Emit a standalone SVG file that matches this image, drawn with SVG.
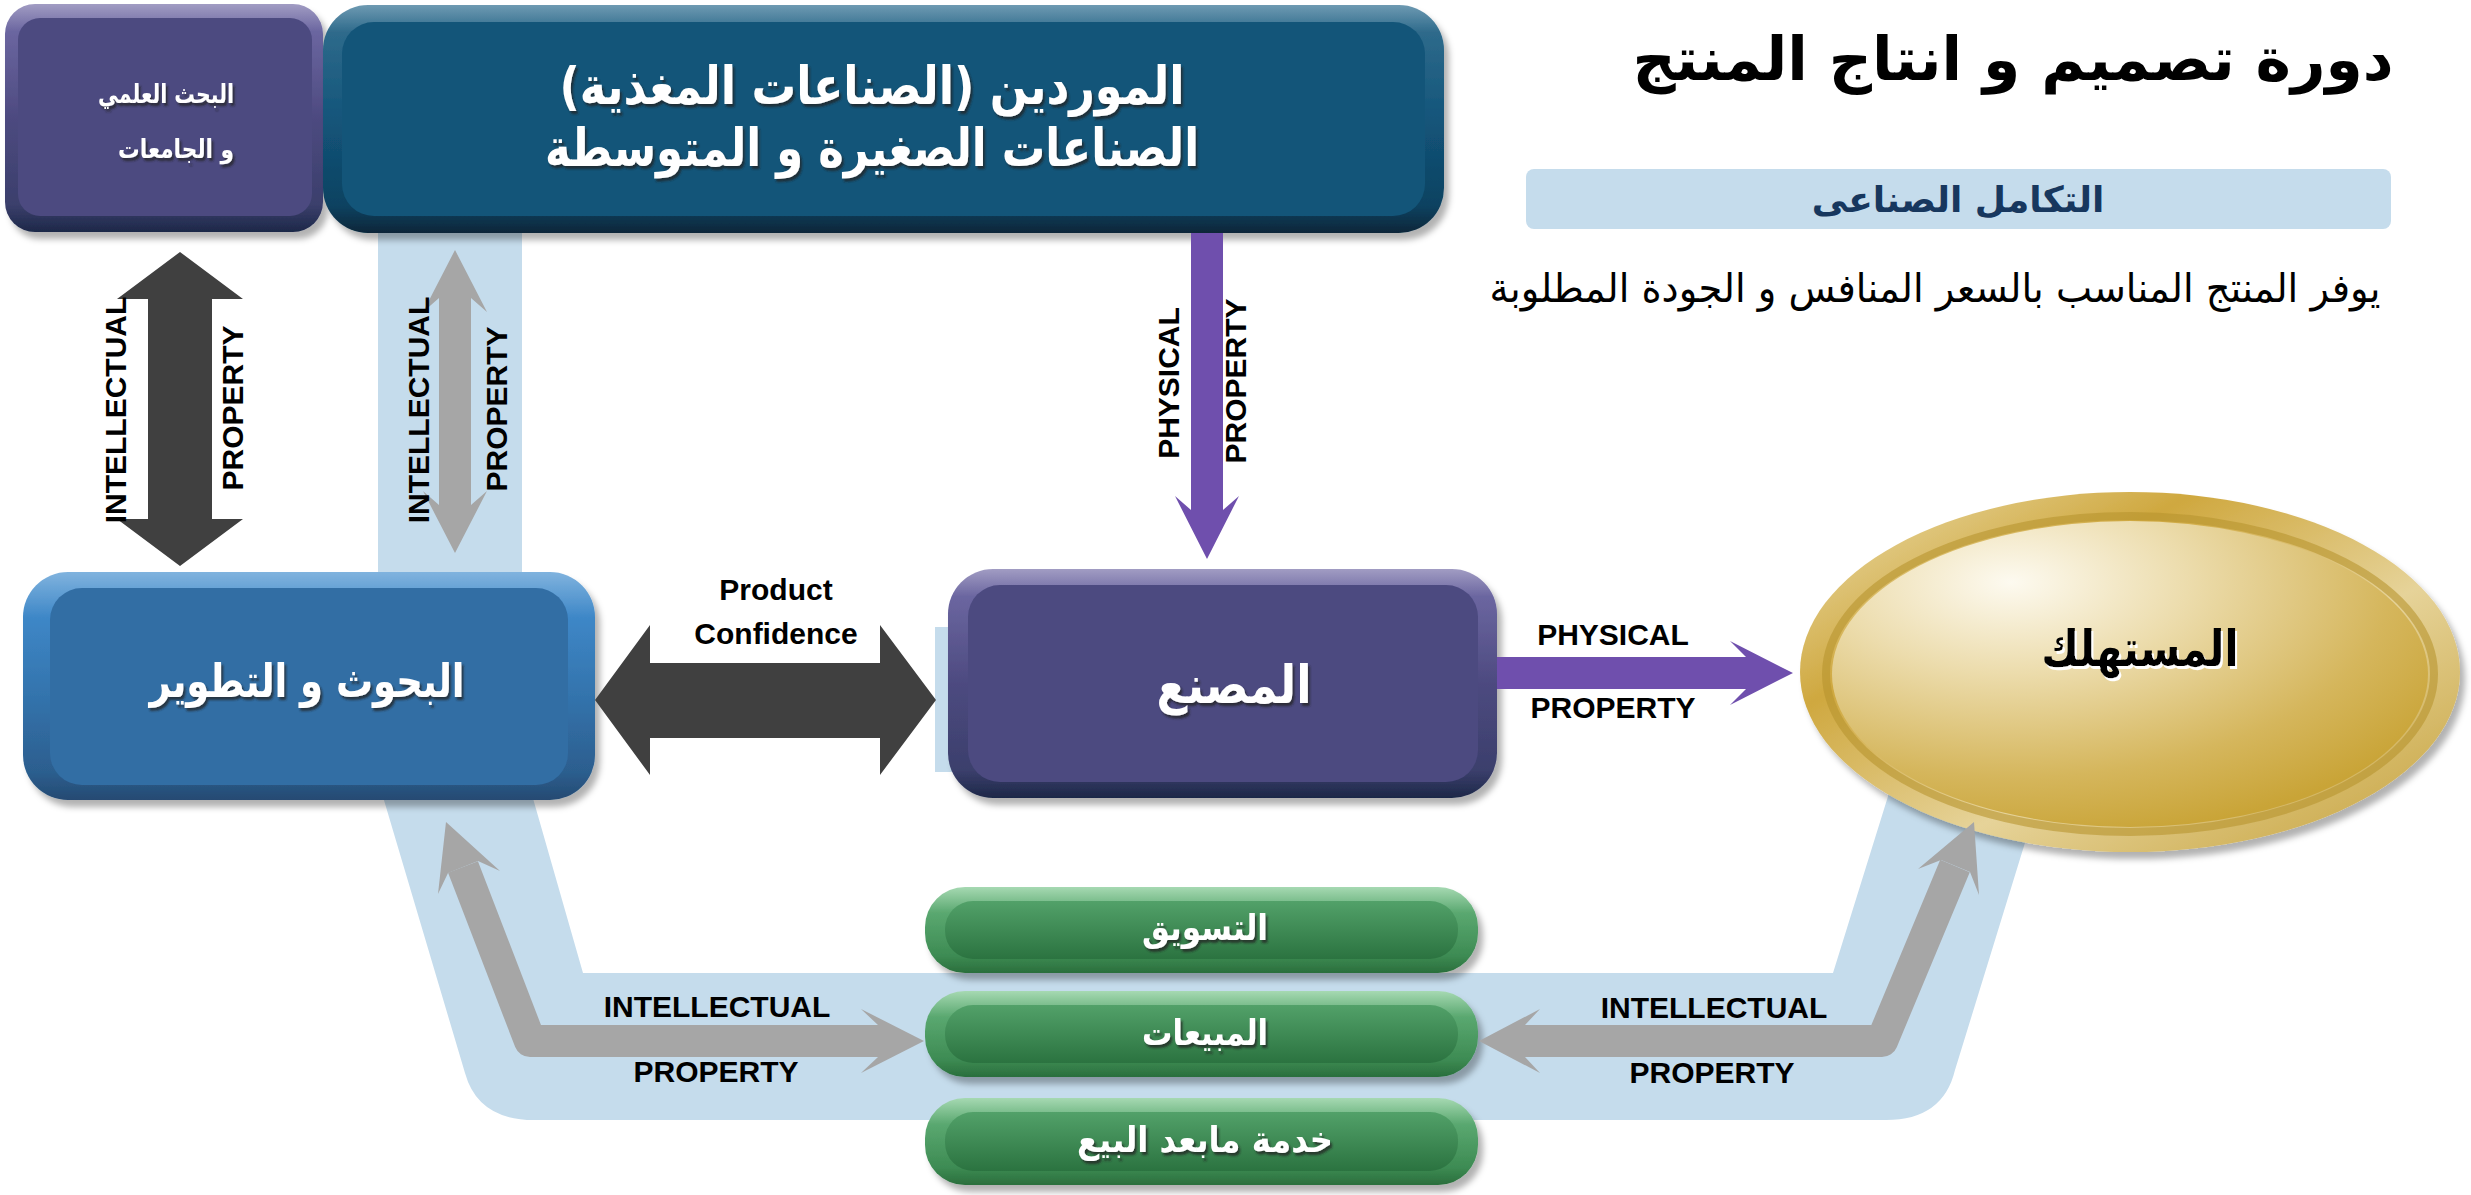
<svg xmlns="http://www.w3.org/2000/svg" width="2471" height="1195" viewBox="0 0 2471 1195">
<defs>
<style>
.ar{font-family:"DejaVu Sans",sans-serif;font-weight:bold;}
.wt{fill:#fff;filter:url(#ts);}
.lbl{font-family:"Liberation Sans",Arial,sans-serif;font-weight:bold;font-size:30px;fill:#000;}
.dark{fill:#404040;}
.gray{fill:#a6a6a6;}
.grayline{fill:none;stroke:#a6a6a6;stroke-width:32;stroke-linejoin:round;}
.purp{fill:#6f4fad;}
.band{fill:#c5dcec;}
</style>
<filter id="sh" x="-10%" y="-10%" width="125%" height="130%">
<feDropShadow dx="5" dy="7" stdDeviation="3" flood-color="#000" flood-opacity="0.3"/>
</filter>
<filter id="ts" x="-10%" y="-20%" width="125%" height="150%">
<feDropShadow dx="2" dy="3" stdDeviation="1" flood-color="#222" flood-opacity="0.75"/>
</filter>
<filter id="tsw" x="-10%" y="-20%" width="125%" height="150%">
<feDropShadow dx="2" dy="3" stdDeviation="0.5" flood-color="#fff" flood-opacity="1"/>
</filter>
<linearGradient id="gPurOut" x1="0" y1="0" x2="0" y2="1">
<stop offset="0" stop-color="#a19cc3"/><stop offset="0.12" stop-color="#6b66a0"/><stop offset="0.5" stop-color="#4d4a80"/><stop offset="0.88" stop-color="#3b3f6c"/><stop offset="1" stop-color="#1d2848"/>
</linearGradient>
<linearGradient id="gTealOut" x1="0" y1="0" x2="0" y2="1">
<stop offset="0" stop-color="#6e9ab2"/><stop offset="0.12" stop-color="#2e6a8b"/><stop offset="0.5" stop-color="#13557a"/><stop offset="0.88" stop-color="#0e4261"/><stop offset="1" stop-color="#072639"/>
</linearGradient>
<linearGradient id="gBlueOut" x1="0" y1="0" x2="0" y2="1">
<stop offset="0" stop-color="#80b3de"/><stop offset="0.2" stop-color="#3e87c7"/><stop offset="0.55" stop-color="#3373ac"/><stop offset="0.88" stop-color="#2c5e8e"/><stop offset="1" stop-color="#254a72"/>
</linearGradient>
<linearGradient id="gGreenOut" x1="0" y1="0" x2="0" y2="1">
<stop offset="0" stop-color="#a6d9b2"/><stop offset="0.3" stop-color="#5aa870"/><stop offset="0.8" stop-color="#3d8b53"/><stop offset="1" stop-color="#2a6e3c"/>
</linearGradient>
<linearGradient id="gGreenIn" x1="0" y1="0" x2="0" y2="1">
<stop offset="0" stop-color="#52a169"/><stop offset="1" stop-color="#2b7340"/>
</linearGradient>
<linearGradient id="gGoldOut" x1="0" y1="0" x2="1" y2="1">
<stop offset="0" stop-color="#ede0b2"/><stop offset="0.3" stop-color="#cfa83f"/><stop offset="0.6" stop-color="#e6d399"/><stop offset="1" stop-color="#c49f36"/>
</linearGradient>
<radialGradient id="gGoldIn" cx="0.3" cy="0.2" r="0.85">
<stop offset="0" stop-color="#fdfaf0"/><stop offset="0.35" stop-color="#ecdcac"/><stop offset="0.75" stop-color="#d5b65c"/><stop offset="1" stop-color="#c9a437"/>
</radialGradient>
</defs>
<rect width="2471" height="1195" fill="#fff"/>

<!-- background band -->
<g id="band">
<path class="band" d="M378,200 L378,780 L465,1073 Q478,1120 534,1120 L1886,1120 Q1943,1120 1955,1070 L2069,700 L1918,700 L1833,973 L583,973 L522,760 L522,200 Z"/>
<rect class="band" x="935" y="627" width="30" height="145"/>
</g>

<!-- title texts -->
<g id="title">
<text class="ar" x="2013" y="80" font-size="60" text-anchor="middle" direction="rtl" fill="#000">دورة تصميم و انتاج المنتج</text>
<rect x="1526" y="169" width="865" height="60" rx="8" fill="#c5dcec"/>
<text class="ar" x="1958" y="212" font-size="36" text-anchor="middle" direction="rtl" fill="#17375e">التكامل الصناعى</text>
<text x="1935" y="302" font-family="DejaVu Sans,sans-serif" font-size="40" text-anchor="middle" direction="rtl" fill="#000" textLength="891" lengthAdjust="spacingAndGlyphs">يوفر المنتج المناسب بالسعر المنافس و الجودة المطلوبة</text>
</g>

<!-- nodes -->
<g id="node-research">
<rect x="5" y="4" width="318" height="228" rx="30" fill="url(#gPurOut)" filter="url(#sh)"/>
<rect x="18" y="18" width="294" height="198" rx="22" fill="#4c4a80"/>
<text class="ar wt" x="234" y="103" font-size="26" direction="rtl" text-anchor="start" textLength="136" lengthAdjust="spacingAndGlyphs">البحث العلمي</text>
<text class="ar wt" x="234" y="158" font-size="26" direction="rtl" text-anchor="start" textLength="116" lengthAdjust="spacingAndGlyphs">و الجامعات</text>
</g>

<g id="node-suppliers">
<rect x="323" y="5" width="1121" height="228" rx="45" fill="url(#gTealOut)" filter="url(#sh)"/>
<rect x="342" y="22" width="1083" height="194" rx="32" fill="#135579"/>
<text class="ar wt" x="872" y="104" font-size="52" text-anchor="middle" direction="rtl" textLength="625" lengthAdjust="spacingAndGlyphs">الموردين (الصناعات المغذية)</text>
<text class="ar wt" x="872" y="166" font-size="52" text-anchor="middle" direction="rtl" textLength="654" lengthAdjust="spacingAndGlyphs">الصناعات الصغيرة و المتوسطة</text>
</g>

<g id="node-rnd">
<rect x="23" y="572" width="572" height="228" rx="45" fill="url(#gBlueOut)" filter="url(#sh)"/>
<rect x="50" y="588" width="518" height="197" rx="32" fill="#326ea4"/>
<text class="ar wt" x="307" y="697" font-size="46" text-anchor="middle" direction="rtl" textLength="315" lengthAdjust="spacingAndGlyphs">البحوث و التطوير</text>
</g>

<g id="node-factory">
<rect x="948" y="569" width="549" height="229" rx="45" fill="url(#gPurOut)" filter="url(#sh)"/>
<rect x="968" y="585" width="510" height="197" rx="32" fill="#4c4a80"/>
<text class="ar wt" x="1234" y="703" font-size="52" text-anchor="middle" direction="rtl" textLength="155" lengthAdjust="spacingAndGlyphs">المصنع</text>
</g>

<g id="node-consumer">
<ellipse cx="2130" cy="672" rx="330" ry="180" fill="url(#gGoldOut)" filter="url(#sh)"/>
<ellipse cx="2130" cy="674" rx="304" ry="158" fill="none" stroke="#b8952f" stroke-width="8" opacity="0.6"/>
<ellipse cx="2130" cy="674" rx="298" ry="153" fill="url(#gGoldIn)"/>
<text class="ar" x="2140" y="666" font-size="50" text-anchor="middle" direction="rtl" fill="#000" filter="url(#tsw)" textLength="197" lengthAdjust="spacingAndGlyphs">المستهلك</text>
</g>

<g id="node-marketing">
<rect x="925" y="887" width="553" height="86" rx="40" fill="url(#gGreenOut)" filter="url(#sh)"/>
<rect x="945" y="901" width="513" height="58" rx="28" fill="url(#gGreenIn)"/>
<text class="ar wt" x="1205" y="940" font-size="36" text-anchor="middle" direction="rtl" textLength="126" lengthAdjust="spacingAndGlyphs">التسويق</text>
</g>

<g id="node-sales">
<rect x="925" y="991" width="553" height="86" rx="40" fill="url(#gGreenOut)" filter="url(#sh)"/>
<rect x="945" y="1005" width="513" height="58" rx="28" fill="url(#gGreenIn)"/>
<text class="ar wt" x="1205" y="1045" font-size="36" text-anchor="middle" direction="rtl" textLength="126" lengthAdjust="spacingAndGlyphs">المبيعات</text>
</g>

<g id="node-aftersales">
<rect x="925" y="1098" width="553" height="87" rx="40" fill="url(#gGreenOut)" filter="url(#sh)"/>
<rect x="945" y="1112" width="513" height="59" rx="28" fill="url(#gGreenIn)"/>
<text class="ar wt" x="1205" y="1152" font-size="36" text-anchor="middle" direction="rtl" textLength="256" lengthAdjust="spacingAndGlyphs">خدمة مابعد البيع</text>
</g>

<!-- connectors -->
<g id="connectors">
<polygon class="dark" points="180,252 243,299 212,299 212,519 243,519 180,566 117,519 148,519 148,299 117,299"/>
<polygon class="gray" points="455,250 487,312 471,298 471,505 487,491 455,553 423,491 439,505 439,298 423,312"/>
<polygon class="dark" points="595,700 650,625 650,663 880,663 880,625 936,700 880,775 880,738 650,738 650,775"/>
<polygon class="purp" points="1191,233 1223,233 1223,510 1239,496 1207,559 1175,496 1191,510"/>
<polygon class="purp" points="1497,657 1746,657 1730,641 1793,673 1730,705 1746,689 1497,689"/>
<polyline class="grayline" points="878,1041 530,1041 463,867"/>
<polygon class="gray" points="446,822 500,871 478,861 448,873 438,894"/>
<polygon class="gray" points="924,1041 861,1009 878,1025 878,1057 861,1073"/>
<polyline class="grayline" points="1525,1041 1882,1041 1955,866"/>
<polygon class="gray" points="1974,822 1979,895 1970,872 1941,860 1918,869"/>
<polygon class="gray" points="1479,1041 1540,1009 1525,1025 1525,1057 1540,1073"/>
</g>

<!-- connector labels -->
<g id="labels">
<text class="lbl" x="126" y="410" text-anchor="middle" transform="rotate(-90 126 410)">INTELLECTUAL</text>
<text class="lbl" x="243" y="408" text-anchor="middle" transform="rotate(-90 243 408)">PROPERTY</text>
<text class="lbl" x="429" y="410" text-anchor="middle" transform="rotate(-90 429 410)">INTELLECTUAL</text>
<text class="lbl" x="507" y="409" text-anchor="middle" transform="rotate(-90 507 409)">PROPERTY</text>
<text class="lbl" x="1179" y="383" text-anchor="middle" transform="rotate(-90 1179 383)">PHYSICAL</text>
<text class="lbl" x="1246" y="381" text-anchor="middle" transform="rotate(-90 1246 381)">PROPERTY</text>
<text class="lbl" x="1613" y="645" text-anchor="middle">PHYSICAL</text>
<text class="lbl" x="1613" y="718" text-anchor="middle">PROPERTY</text>
<text class="lbl" x="776" y="600" text-anchor="middle" font-size="34">Product</text>
<text class="lbl" x="776" y="644" text-anchor="middle" font-size="34">Confidence</text>
<text class="lbl" x="717" y="1017" text-anchor="middle">INTELLECTUAL</text>
<text class="lbl" x="716" y="1082" text-anchor="middle">PROPERTY</text>
<text class="lbl" x="1714" y="1018" text-anchor="middle">INTELLECTUAL</text>
<text class="lbl" x="1712" y="1083" text-anchor="middle">PROPERTY</text>
</g>
</svg>
